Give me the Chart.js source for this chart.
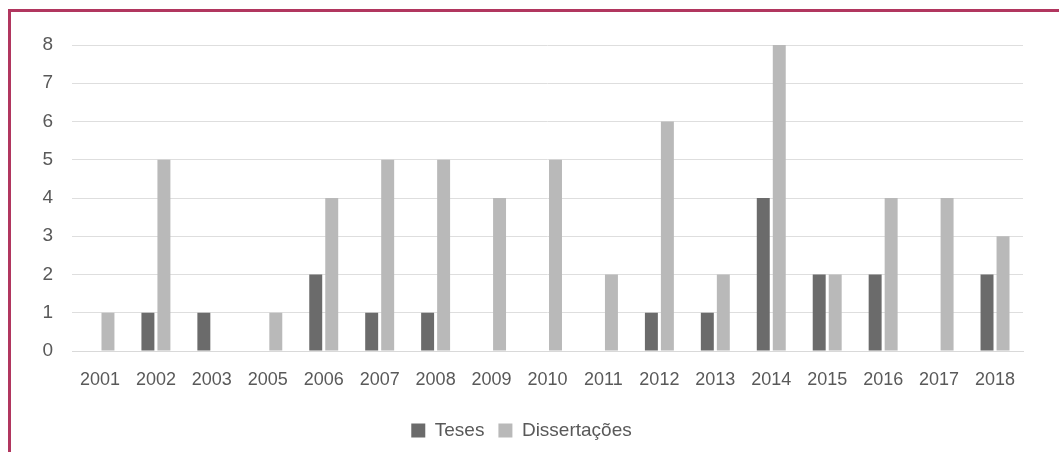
<!DOCTYPE html>
<html>
<head>
<meta charset="utf-8">
<script src="https://cdn.jsdelivr.net/npm/chart.js@4"></script>
<style>
  html, body { margin: 0; padding: 0; background: #fff; }
  #wrap { position: relative; width: 1059px; height: 452px; overflow: hidden; }
  #frame {
    position: absolute; left: 8px; top: 9px; width: 1200px; height: 600px;
    border-top: 3px solid #b1365f; border-left: 3px solid #b1365f;
  }
  #box { position: absolute; left: 0; top: 0; width: 1059px; height: 452px; }
</style>
</head>
<body>
<div id="wrap">
  <div id="frame"></div>
  <div id="box"><canvas id="chart"></canvas></div>
</div>
<script>
const years = ['2001', '2002', '2003', '2005', '2006', '2007', '2008', '2009', '2010',
  '2011', '2012', '2013', '2014', '2015', '2016', '2017', '2018'];
const teses = [0, 1, 1, 0, 2, 1, 1, 0, 0, 0, 1, 1, 4, 2, 2, 0, 2];
const dissertacoes = [1, 5, 0, 1, 4, 5, 5, 4, 5, 2, 6, 2, 8, 2, 4, 4, 3];
const yTicks = [0, 1, 2, 3, 4, 5, 6, 7, 8];

const textColor = '#595959';
const fontFamily = '"Liberation Sans", Arial, sans-serif';

const ctx = document.getElementById('chart').getContext('2d');
const chart = new Chart(ctx, {
  type: 'bar',
  data: {
    labels: years,
    datasets: [{
      label: 'Teses',
      data: teses,
      backgroundColor: '#6b6b6b',
      categoryPercentage: 0.572,
      barPercentage: 0.81,
    }, {
      label: 'Dissertações',
      data: dissertacoes,
      backgroundColor: '#b9b9b9',
      categoryPercentage: 0.572,
      barPercentage: 0.81,
    }],
  },
  options: {
    responsive: true,
    maintainAspectRatio: false,
    animation: false,
    layout: { padding: { left: 20, right: 36, top: 45, bottom: 2 } },
    plugins: {
      tooltip: { enabled: false },
      legend: {
        position: 'bottom',
        labels: {
          color: textColor,
          font: { family: fontFamily, size: 19 },
          boxWidth: 14,
          boxHeight: 14,
          padding: 14,
        },
      },
    },
    scales: {
      x: {
        grid: { display: false, drawTicks: false },
        border: { color: '#d9d9d9', width: 1 },
        ticks: {
          color: textColor,
          font: { family: fontFamily, size: 18 },
          padding: 18,
          maxRotation: 0,
          autoSkip: false,
        },
        afterFit: (scale) => { scale.height = 56; },
      },
      y: {
        min: 0,
        max: 8,
        afterBuildTicks: (scale) => { scale.ticks = yTicks.map(v => ({ value: v })); },
        grid: { color: '#dedede', drawTicks: false },
        border: { display: false },
        ticks: {
          color: textColor,
          font: { family: fontFamily, size: 19 },
          padding: 19,
        },
        afterFit: (scale) => { scale.width = 52; },
      },
    },
  },
});
</script>
</body>
</html>
